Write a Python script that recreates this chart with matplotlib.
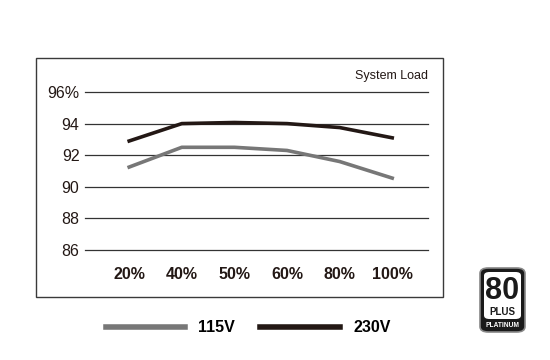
import matplotlib.pyplot as plt
from matplotlib.patches import FancyBboxPatch, Rectangle

plt.rcParams['font.family'] = ['Liberation Sans', 'DejaVu Sans']

# === data ===
loads = ['20%', '40%', '50%', '60%', '80%', '100%']
eff_115 = [91.25, 92.5, 92.5, 92.3, 91.6, 90.55]
eff_230 = [92.9, 94.0, 94.07, 94.0, 93.75, 93.1]
y_ticks = [86, 88, 90, 92, 94, 96]
y_labels = ['86', '88', '90', '92', '94', '96%']

W, H = 550, 360
fig = plt.figure(figsize=(5.5, 3.6), dpi=100)

# outer frame
fig.patches.append(Rectangle((36 / W, 1 - 297 / H), 407 / W, 239 / H,
                             transform=fig.transFigure, fill=False,
                             edgecolor='#3a3a3a', linewidth=1.0))

ax = fig.add_axes([85 / W, 1 - 250 / H, 343 / W, 158 / H])
x = range(len(loads))
for yt in y_ticks:
    ax.axhline(yt, color='#333333', linewidth=0.9, zorder=1, clip_on=False)
l115, = ax.plot(x, eff_115, color='#777777', linewidth=2.6, zorder=2, label='115V')
l230, = ax.plot(x, eff_230, color='#231815', linewidth=2.6, zorder=3, label='230V')

ax.set_xlim(-0.84, 5.68)
ax.set_ylim(86, 96)
for s in ax.spines.values():
    s.set_visible(False)
ax.set_yticks(y_ticks)
ax.set_yticklabels(y_labels, fontsize=11.5, color='#231815')
ax.set_xticks(list(x))
ax.set_xticklabels(loads, fontsize=11.5, fontweight='bold', color='#231815')
ax.tick_params(axis='both', length=0)
ax.tick_params(axis='y', pad=4)
ax.tick_params(axis='x', pad=12)
ax.text(1.0, 1.10, 'System Load', transform=ax.transAxes, ha='right',
        va='center', fontsize=9, color='#231815')

leg = fig.legend(handles=[l115, l230], loc='center', ncol=2, frameon=False,
                 bbox_to_anchor=(248 / W, 1 - 328 / H), handlelength=5.0,
                 handletextpad=0.8, columnspacing=1.6,
                 prop={'size': 11.5, 'weight': 'bold'})
for ln in leg.get_lines():
    ln.set_linewidth(4)

# 80 PLUS Platinum badge
bx, by, bw, bh = 480 / W, 1 - 332 / H, 45 / W, 64 / H
fig.patches.append(FancyBboxPatch((bx, by), bw, bh, transform=fig.transFigure,
                                  boxstyle='round,pad=0,rounding_size=0.015',
                                  facecolor='#1a1a1a', edgecolor='#888888', linewidth=1.2))
fig.patches.append(FancyBboxPatch((bx + 4 / W, by + 13 / H), bw - 8 / W, bh - 17 / H,
                                  transform=fig.transFigure,
                                  boxstyle='round,pad=0,rounding_size=0.01',
                                  facecolor='white', edgecolor='none'))
fig.text(bx + bw / 2, 1 - 291 / H, '80', ha='center', va='center', fontsize=22,
         fontweight='bold', color='#1a1a1a')
fig.text(bx + bw / 2, 1 - 312 / H, 'PLUS', ha='center', va='center', fontsize=7,
         fontweight='bold', color='#1a1a1a')
fig.text(bx + bw / 2, 1 - 325.5 / H, 'PLATINUM', ha='center', va='center', fontsize=4.8,
         fontweight='bold', color='white')

fig.savefig('out.png', dpi=100)
